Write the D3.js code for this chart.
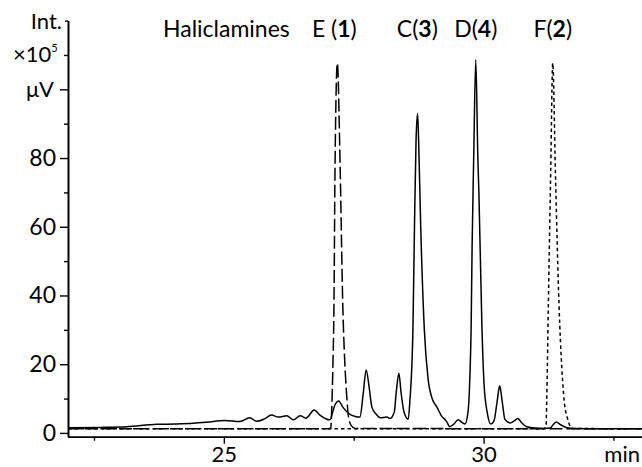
<!DOCTYPE html>
<html>
<head>
<meta charset="utf-8">
<script src="https://cdn.jsdelivr.net/npm/d3@7"></script>
<style>
  body { margin: 0; background: #fff; }
  svg { display: block; font-family: Lato, "Open Sans", sans-serif; }
  .axis path, .axis line { stroke: #000; stroke-width: 1.4; }
  .axis text { font-family: Lato, sans-serif; font-size: 23px; fill: #000; }
</style>
</head>
<body>
<svg></svg>
<script>
// Set up SVG for D3.
var width = 642,
    height = 467;

var svg = d3.select("svg")
    .attr("width", width)
    .attr("height", height);

// Mixture trace (solid): retention time (min), signal (x10^5 uV)
var mixTime = [22.00, 22.62, 23.13, 23.71, 24.06, 24.41, 24.67, 25.02, 25.31, 25.50,
  25.63, 25.77, 25.92, 26.05, 26.21, 26.34, 26.47, 26.58, 26.74, 26.85,
  27.04, 27.14, 27.21, 27.29, 27.40, 27.53, 27.62, 27.68, 27.74, 27.80,
  27.85, 27.93, 28.01, 28.14, 28.20, 28.28, 28.32, 28.37, 28.41, 28.47,
  28.55, 28.58, 28.64, 28.67, 28.70, 28.73, 28.75, 28.79, 28.86, 28.93,
  29.01, 29.10, 29.18, 29.29, 29.35, 29.43, 29.51, 29.59, 29.64, 29.70,
  29.74, 29.76, 29.78, 29.81, 29.85, 29.89, 29.91, 29.97, 30.01, 30.07,
  30.14, 30.20, 30.26, 30.31, 30.36, 30.41, 30.51, 30.59, 30.66, 30.72,
  30.83, 30.99, 31.18, 31.28, 31.34, 31.40, 31.47, 31.59, 31.76, 32.24, 33.05];
var mixSignal = [1.5, 1.6, 1.8, 2.5, 2.6, 2.8, 3.1, 3.6, 3.3, 4.4,
  3.4, 4.0, 5.2, 4.6, 5.0, 3.8, 5.0, 4.3, 6.7, 5.2,
  3.8, 8.2, 9.3, 7.5, 5.7, 4.8, 4.6, 11, 18.3, 13,
  7.5, 5.5, 4.4, 4.6, 4.2, 6, 12, 17.4, 12, 6,
  4.0, 9, 30, 60, 85, 93, 85, 60, 30, 16,
  10, 7.6, 5.2, 3.3, 1.8, 2.6, 3.8, 3.0, 2.6, 6,
  18, 30, 55, 80, 108.6, 80, 70, 30, 14, 6,
  2.6, 3.5, 9, 13.7, 9, 4, 2.9, 3.5, 4.2, 3.2,
  1.8, 1.4, 1.3, 1.4, 2.4, 3.2, 2.5, 1.6, 1.3, 1.2, 1.2];

// Haliclamine E standard (dashed)
var stdETime = [22.00, 27.02, 27.06, 27.075, 27.10, 27.12, 27.14, 27.185, 27.24, 27.29,
  27.33, 27.36, 27.40, 27.45, 27.53, 33.05];
var stdESignal = [1.2, 1.2, 1.6, 6, 20, 37, 76.6, 107.6, 76.6, 37,
  20, 12, 4.7, 2.2, 1.3, 1.2];

// Haliclamine F standard (dotted)
var stdFTime = [22.00, 31.15, 31.19, 31.203, 31.216, 31.228, 31.247, 31.293, 31.332, 31.382,
  31.453, 31.505, 31.55, 31.62, 31.665, 31.72, 33.05];
var stdFSignal = [1.2, 1.2, 1.5, 2, 9.6, 19.3, 37, 76.6, 107.6, 76.6,
  37, 19.3, 9.6, 4, 2, 1.3, 1.2];

// Compound labels over the peaks
var compoundNames = ["E ", "C", "D", "F"];
var compoundNumbers = ["1", "3", "4", "2"];
var compoundTimes = [27.185, 28.725, 29.85, 31.332];

// Ticks
var xMajorTicks = [25, 30];
var xMinorTicks = [22.5, 27.5, 32.5];
var yMajorTicks = [0, 20, 40, 60, 80, 100];
var yMinorTicks = [10, 30, 50, 70, 90, 110];
var yTopTick = 120;

var x = d3.scaleLinear().domain([22, 33.05]).range([68, 642]);
var y = d3.scaleLinear().domain([-1.1, 120]).range([436.7, 20.6]);

// axes
svg.append("g")
    .attr("class", "axis")
    .attr("transform", "translate(0,436.7)")
    .call(d3.axisBottom(x).tickValues(xMajorTicks).tickSize(7).tickSizeOuter(0).tickPadding(3))
  .selectAll("text")
    .style("font-size", "22px");
svg.append("g")
    .attr("class", "axis")
    .attr("transform", "translate(0,436.7)")
    .call(d3.axisBottom(x).tickValues(xMinorTicks).tickSize(4).tickSizeOuter(0).tickFormat(""));

svg.append("text")
    .attr("x", 640)
    .attr("y", 462)
    .attr("text-anchor", "end")
    .style("font-size", "22px")
    .text("min");

svg.append("g")
    .attr("class", "axis")
    .attr("transform", "translate(68,0)")
    .call(d3.axisLeft(y).tickValues(yMajorTicks).tickSize(8).tickSizeOuter(0).tickPadding(4)
      .tickFormat(function(d) { return d === 100 ? "" : d; }));
svg.append("g")
    .attr("class", "axis")
    .attr("transform", "translate(68,0)")
    .call(d3.axisLeft(y).tickValues(yMinorTicks).tickSize(4).tickSizeOuter(0).tickFormat(""));
svg.append("g")
    .attr("class", "axis")
    .attr("transform", "translate(68,0)")
    .call(d3.axisLeft(y).tickValues([yTopTick]).tickSize(3).tickSizeOuter(0).tickFormat(""));

// unit labels on the top ticks
svg.append("text")
    .attr("x", 62).attr("y", y(120) + 8.5)
    .attr("text-anchor", "end")
    .style("font-size", "22px")
    .text("Int.");
var pow = svg.append("text")
    .attr("x", 13).attr("y", y(110) + 7.5)
    .style("font-size", "22px");
pow.append("tspan").text("\u00d710");
pow.append("tspan").attr("dy", -10).style("font-size", "11px").text("5");
svg.append("text")
    .attr("x", 54).attr("y", y(100) + 8)
    .attr("text-anchor", "end")
    .style("font-size", "22px")
    .text("\u03bcV");

// traces
function trace(times, signal) {
  return d3.line()
      .x(function(d, i) { return x(times[i]); })
      .y(function(d) { return y(d); })
      .curve(d3.curveMonotoneX)(signal);
}

svg.append("path")
    .attr("d", trace(stdETime, stdESignal))
    .attr("fill", "none")
    .attr("stroke", "#000")
    .attr("stroke-width", 1.5)
    .attr("stroke-dasharray", "13,4");

svg.append("path")
    .attr("d", trace(stdFTime, stdFSignal))
    .attr("fill", "none")
    .attr("stroke", "#000")
    .attr("stroke-width", 1.5)
    .attr("stroke-dasharray", "3.5,3");

svg.append("path")
    .attr("d", trace(mixTime, mixSignal))
    .attr("fill", "none")
    .attr("stroke", "#000")
    .attr("stroke-width", 1.5)
    .attr("stroke-linejoin", "round");

// title and compound labels
svg.append("text")
    .attr("x", 163).attr("y", 37)
    .style("font-size", "23px")
    .text("Haliclamines");

var labels = svg.selectAll("text.compound")
    .data(compoundNames)
  .enter().append("text")
    .attr("class", "compound")
    .attr("x", function(d, i) { return x(compoundTimes[i]) - (i === 0 ? 3 : 0); })
    .attr("y", 37)
    .attr("text-anchor", "middle")
    .style("font-size", "23px");
labels.append("tspan").text(function(d) { return d + "("; });
labels.append("tspan").style("font-weight", "bold").text(function(d, i) { return compoundNumbers[i]; });
labels.append("tspan").text(")");
</script>
</body>
</html>
